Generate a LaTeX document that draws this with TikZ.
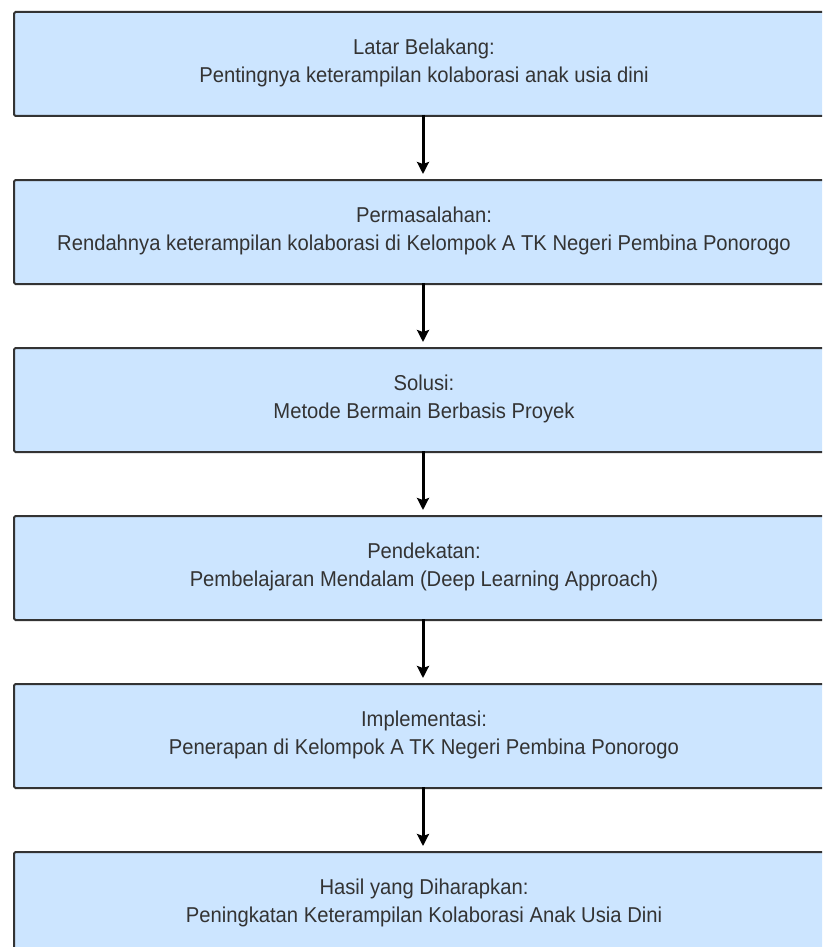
\documentclass[tikz,border=0pt]{standalone}
\usepackage{fontspec}
\setmainfont[FakeStretch=0.94]{Liberation Sans}
\usetikzlibrary{arrows.meta}
\definecolor{boxfill}{HTML}{CCE5FF}
\definecolor{boxline}{HTML}{333333}
\definecolor{txt}{HTML}{333333}
\tikzset{
  stagebox/.style={draw=boxline, line width=2pt, fill=boxfill, rounded corners=1.5pt,
    minimum width=820pt, minimum height=104pt, anchor=north west, inner sep=0pt},
  stagetext/.style={align=center, text=txt, font=\fontsize{21.5pt}{28pt}\selectfont, inner sep=0pt},
  flowarrow/.style={-{Stealth[length=12pt,width=12pt,inset=2pt]}, line width=3pt, black, shorten >=5pt}
}
\begin{document}
\begin{tikzpicture}[x=1pt,y=-1pt]
\useasboundingbox (0,0) rectangle (822,947);
\clip (0,0) rectangle (822,947);
\fill[white] (0,0) rectangle (822,947);
\node[stagebox] (b1) at (13,11) {};
\node[stagebox] (b2) at (13,179) {};
\node[stagebox] (b3) at (13,347) {};
\node[stagebox] (b4) at (13,515) {};
\node[stagebox] (b5) at (13,683) {};
\node[stagebox] (b6) at (13,851) {};
\node[stagetext] (t1) at ([yshift=1pt]b1.center) {Latar Belakang:\\Pentingnya keterampilan kolaborasi anak usia dini};
\node[stagetext] (t2) at ([yshift=1pt]b2.center) {Permasalahan:\\Rendahnya keterampilan kolaborasi di Kelompok A TK Negeri Pembina Ponorogo};
\node[stagetext] (t3) at ([yshift=1pt]b3.center) {Solusi:\\Metode Bermain Berbasis Proyek};
\node[stagetext] (t4) at ([yshift=1pt]b4.center) {Pendekatan:\\Pembelajaran Mendalam (Deep Learning Approach)};
\node[stagetext] (t5) at ([yshift=1pt]b5.center) {Implementasi:\\Penerapan di Kelompok A TK Negeri Pembina Ponorogo};
\node[stagetext] (t6) at ([yshift=1pt]b6.center) {Hasil yang Diharapkan:\\Peningkatan Keterampilan Kolaborasi Anak Usia Dini};
\coordinate (c1) at (423,115);
\coordinate (c2) at (423,179);
\coordinate (c3) at (423,283);
\coordinate (c4) at (423,347);
\coordinate (c5) at (423,451);
\coordinate (c6) at (423,515);
\coordinate (c7) at (423,619);
\coordinate (c8) at (423,683);
\coordinate (c9) at (423,787);
\coordinate (c10) at (423,851);
\draw[flowarrow] (c1) -- (c2);
\draw[flowarrow] (c3) -- (c4);
\draw[flowarrow] (c5) -- (c6);
\draw[flowarrow] (c7) -- (c8);
\draw[flowarrow] (c9) -- (c10);
\end{tikzpicture}
\end{document}
